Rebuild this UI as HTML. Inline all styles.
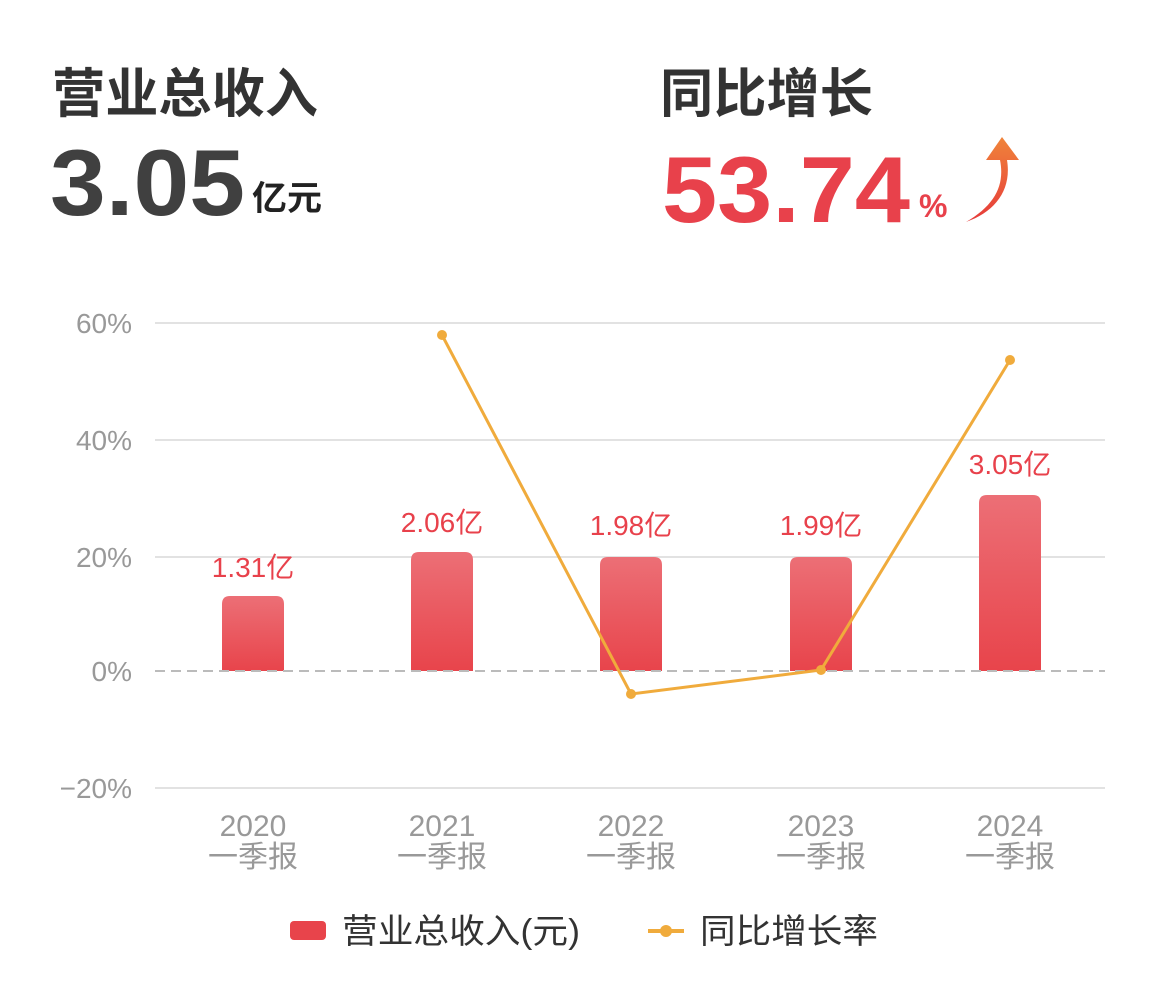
<!DOCTYPE html>
<html><head><meta charset="utf-8"><style>
html,body{margin:0;padding:0;background:#fff;}
svg{display:block;font-family:"Liberation Sans","Noto Sans CJK SC",sans-serif;}
</style></head><body>
<svg width="1170" height="988" viewBox="0 0 1170 988" xmlns="http://www.w3.org/2000/svg">
<defs>
<linearGradient id="bar" x1="0" y1="0" x2="0" y2="1"><stop offset="0" stop-color="#ec6f76"/><stop offset="1" stop-color="#e8444b"/></linearGradient>
<linearGradient id="arr" x1="0" y1="0" x2="0" y2="1"><stop offset="0" stop-color="#f0843a"/><stop offset="1" stop-color="#e63a3a"/></linearGradient>
</defs>
<rect width="1170" height="988" fill="#fff"/>
<text x="52" y="112" font-size="53" font-weight="bold" fill="#333" textLength="266" lengthAdjust="spacingAndGlyphs">营业总收入</text>
<text x="50" y="215" font-size="94" font-weight="bold" fill="#404040" textLength="195" lengthAdjust="spacingAndGlyphs">3.05</text>
<text x="252" y="210" font-size="34" font-weight="bold" fill="#222" textLength="70" lengthAdjust="spacingAndGlyphs">亿元</text>
<text x="660" y="112" font-size="53" font-weight="bold" fill="#333" textLength="213" lengthAdjust="spacingAndGlyphs">同比增长</text>
<text x="662" y="222" font-size="94" font-weight="bold" fill="#e8414b" textLength="248" lengthAdjust="spacingAndGlyphs">53.74</text>
<text x="919" y="217" font-size="32" font-weight="bold" fill="#e8414b">%</text>
<path d="M966 222 C995 205 1005 185 1000 160 L986 160 L1002 137 L1019 160 L1007 160 C1012 190 995 212 966 222 Z" fill="url(#arr)"/>
<g stroke="#e2e2e2" stroke-width="2">
<line x1="155" y1="323" x2="1105" y2="323"/>
<line x1="155" y1="440" x2="1105" y2="440"/>
<line x1="155" y1="557" x2="1105" y2="557"/>
<line x1="155" y1="788" x2="1105" y2="788"/>
</g>
<g font-size="28" fill="#999" text-anchor="end">
<text x="132" y="333">60%</text>
<text x="132" y="450">40%</text>
<text x="132" y="567">20%</text>
<text x="132" y="681">0%</text>
<text x="132" y="798">−20%</text>
</g>
<g fill="url(#bar)">
<path d="M222 671 V604 Q222 596 230 596 H276 Q284 596 284 604 V671 Z"/>
<path d="M411 671 V560 Q411 552 419 552 H465 Q473 552 473 560 V671 Z"/>
<path d="M600 671 V565 Q600 557 608 557 H654 Q662 557 662 565 V671 Z"/>
<path d="M790 671 V565 Q790 557 798 557 H844 Q852 557 852 565 V671 Z"/>
<path d="M979 671 V503 Q979 495 987 495 H1033 Q1041 495 1041 503 V671 Z"/>
</g>
<line x1="155" y1="671" x2="1105" y2="671" stroke="#bbb" stroke-width="2" stroke-dasharray="10,6"/>
<g font-size="28" fill="#e8414b" text-anchor="middle">
<text x="253" y="577">1.31亿</text>
<text x="442" y="532">2.06亿</text>
<text x="631" y="535">1.98亿</text>
<text x="821" y="535">1.99亿</text>
<text x="1010" y="474">3.05亿</text>
</g>
<polyline points="442,335 631,694 821,670 1010,360" fill="none" stroke="#f0ab3c" stroke-width="3"/>
<g fill="#f0ab3c"><circle cx="442" cy="335" r="5"/><circle cx="631" cy="694" r="5"/><circle cx="821" cy="670" r="5"/><circle cx="1010" cy="360" r="5"/></g>
<g font-size="30" fill="#999" text-anchor="middle">
<text x="253" y="836">2020</text><text x="253" y="867">一季报</text>
<text x="442" y="836">2021</text><text x="442" y="867">一季报</text>
<text x="631" y="836">2022</text><text x="631" y="867">一季报</text>
<text x="821" y="836">2023</text><text x="821" y="867">一季报</text>
<text x="1010" y="836">2024</text><text x="1010" y="867">一季报</text>
</g>
<rect x="290" y="921" width="36" height="19" rx="4" fill="#e8444b"/>
<text x="342" y="943" font-size="34" fill="#333" textLength="238" lengthAdjust="spacingAndGlyphs">营业总收入(元)</text>
<line x1="648" y1="931" x2="684" y2="931" stroke="#f0ab3c" stroke-width="4"/>
<circle cx="666" cy="931" r="6" fill="#f0ab3c"/>
<text x="700" y="943" font-size="34" fill="#333" textLength="178" lengthAdjust="spacingAndGlyphs">同比增长率</text>
</svg>
</body></html>
